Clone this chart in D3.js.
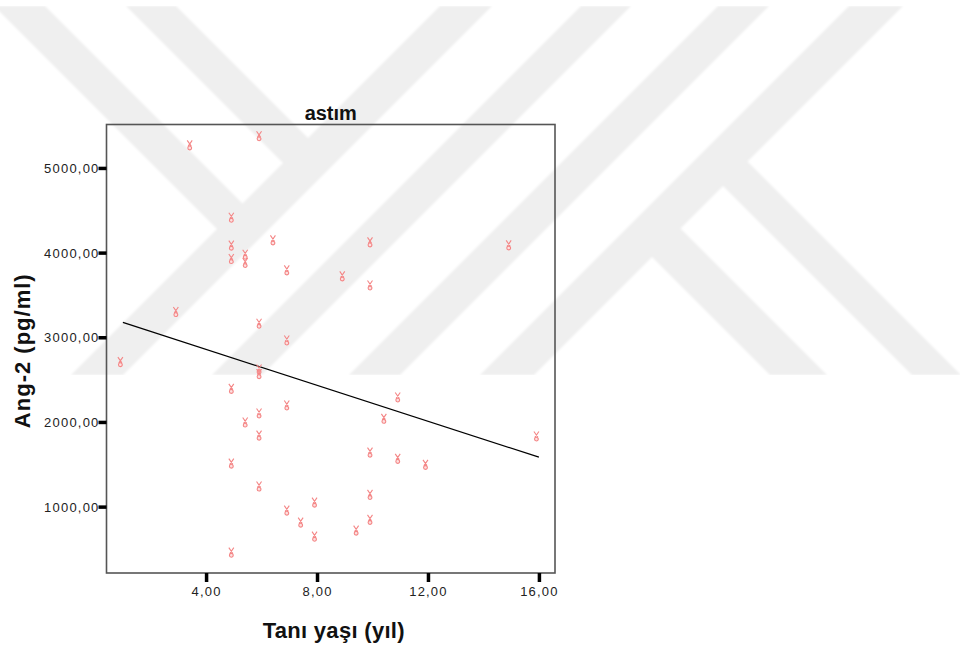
<!DOCTYPE html>
<html><head><meta charset="utf-8">
<script src="https://cdn.jsdelivr.net/npm/d3@7"></script>
<style>body{margin:0;background:#fff}</style>
</head><body><svg id="c" width="960" height="650"></svg>
<script>
// ---- data ----
const ageYears   = [1,3,3.5,5,5,5,5,5,5,5.5,5.5,5.5,6,6,6,6,6,6,6,6.5,7,7,7,7,7.5,8,8,9,9.5,10,10,10,10,10,10.5,11,11,12,15,16];
const ang2Values = [2707,3298,5267,4412,4082,3924,2391,1508,456,3975,3877,1993,5374,3160,2620,2565,2100,1839,1237,4144,3790,2962,2194,953,811,1047,645,3719,716,4121,3612,1638,1138,843,2037,2289,1564,1493,4085,1828];
const fitAge  = [1, 16];
const fitAng2 = [3175, 1584];
const xTicks = [4, 8, 12, 16];
const yTicks = [1000, 2000, 3000, 4000, 5000];
const chartTitle = "astım";
const xTitle = "Tanı yaşı (yıl)";
const yTitle = "Ang-2 (pg/ml)";

const svg = d3.select("#c");
const W = 960, H = 650;
const plot = {left: 106.5, top: 124.5, right: 555, bottom: 573};

// ---- background watermark (decoration) ----
const defs = svg.append("defs");
defs.append("clipPath").attr("id","wmclip").append("rect").attr("x",0).attr("y",6).attr("width",W).attr("height",369);
defs.append("filter").attr("id","soft").append("feGaussianBlur").attr("stdDeviation",0.8);
const wm = svg.append("g").attr("clip-path","url(#wmclip)").append("g").attr("filter","url(#soft)");
const dl = (c1,c2) => [[c1-6,6],[c2-6,6],[c2-375,375],[c1-375,375]];
const drTop = (d1,d2,c) => [[6-d1,6],[(c-d1)/2,(c+d1)/2],[(c-d2)/2,(c+d2)/2],[6-d2,6]];
const drBot = (d1,d2,c) => [[(c-d1)/2,(c+d1)/2],[375-d1,375],[375-d2,375],[(c-d2)/2,(c+d2)/2]];
const bands = [dl(446,498), dl(587,637), dl(724,775), dl(855,909),
  drTop(-39,12,472), drTop(-170,-120,472), drBot(-586,-537,882), drBot(-452,-395,882)];
wm.selectAll("polygon").data(bands).join("polygon")
  .attr("points", d => d.map(p => p.join(",")).join(" "))
  .attr("fill","#efefef");

// ---- scales ----
const x = d3.scaleLinear().domain([0.41, 16.58]).range([plot.left, plot.right]);
const y = d3.scaleLinear().domain([216, 5513]).range([plot.bottom, plot.top]);
const fmt = v => d3.format(".2f")(v).replace(".", ",");

// ---- frame ----
svg.append("rect").attr("x",plot.left).attr("y",plot.top)
  .attr("width",plot.right-plot.left).attr("height",plot.bottom-plot.top)
  .attr("fill","none").attr("stroke","#555").attr("stroke-width",1.6);

// ---- axes ----
const xAxis = svg.append("g").attr("transform",`translate(0,${plot.bottom})`)
  .call(d3.axisBottom(x).tickValues(xTicks).tickSize(9).tickPadding(5).tickFormat(fmt));
const yAxis = svg.append("g").attr("transform",`translate(${plot.left},0)`)
  .call(d3.axisLeft(y).tickValues(yTicks).tickSize(8).tickPadding(0).tickFormat(fmt));
[xAxis, yAxis].forEach(g => {
  g.select(".domain").remove();
  g.selectAll(".tick line").attr("stroke","#000").attr("stroke-width",3.5);
  g.selectAll(".tick text").attr("fill","#222")
    .style("font-family","'Liberation Sans', Arial, sans-serif")
    .style("font-size","13px").style("letter-spacing","1.2px");
});
yAxis.selectAll(".tick text").attr("x",-7).attr("dy","0.35em");

// ---- regression line ----
svg.append("path")
  .datum(fitAge.map((a,i)=>[a, fitAng2[i]]))
  .attr("d", d3.line().x(d=>x(d[0])).y(d=>y(d[1])))
  .attr("fill","none").attr("stroke","#000").attr("stroke-width",1.3);

// ---- points (small "victory hand" style marker, drawn slightly left as in the original glyph) ----
const markerPath = "M-5,-5 L-1,0.8 M0,-5 L-4,0.8 M-4.4,2.6 a1.9,1.9 0 1,0 3.8,0 a1.9,1.9 0 1,0 -3.8,0";
svg.append("g").selectAll("path").data(ageYears.map((a,i)=>[a, ang2Values[i]])).join("path")
  .attr("transform", d=>`translate(${x(d[0])},${y(d[1])})`)
  .attr("d", markerPath)
  .attr("fill","#fde0e0").attr("stroke","#f48686").attr("stroke-width",1.1);

// ---- titles ----
const bold = "'Liberation Sans', Arial, sans-serif";
svg.append("text").attr("x",(plot.left+plot.right)/2).attr("y",120)
  .attr("text-anchor","middle").style("font-family",bold).style("font-weight","bold")
  .style("font-size","20px").attr("fill","#111").text(chartTitle);
svg.append("text").attr("x",(plot.left+plot.right)/2+3).attr("y",638)
  .attr("text-anchor","middle").style("font-family",bold).style("font-weight","bold")
  .style("font-size","22px").style("letter-spacing","0.3px").attr("fill","#111").text(xTitle);
svg.append("text").attr("transform",`translate(30,${(plot.top+plot.bottom)/2+2}) rotate(-90)`)
  .attr("text-anchor","middle").style("font-family",bold).style("font-weight","bold")
  .style("font-size","22px").style("letter-spacing","1px").attr("fill","#111").text(yTitle);
</script></body></html>
